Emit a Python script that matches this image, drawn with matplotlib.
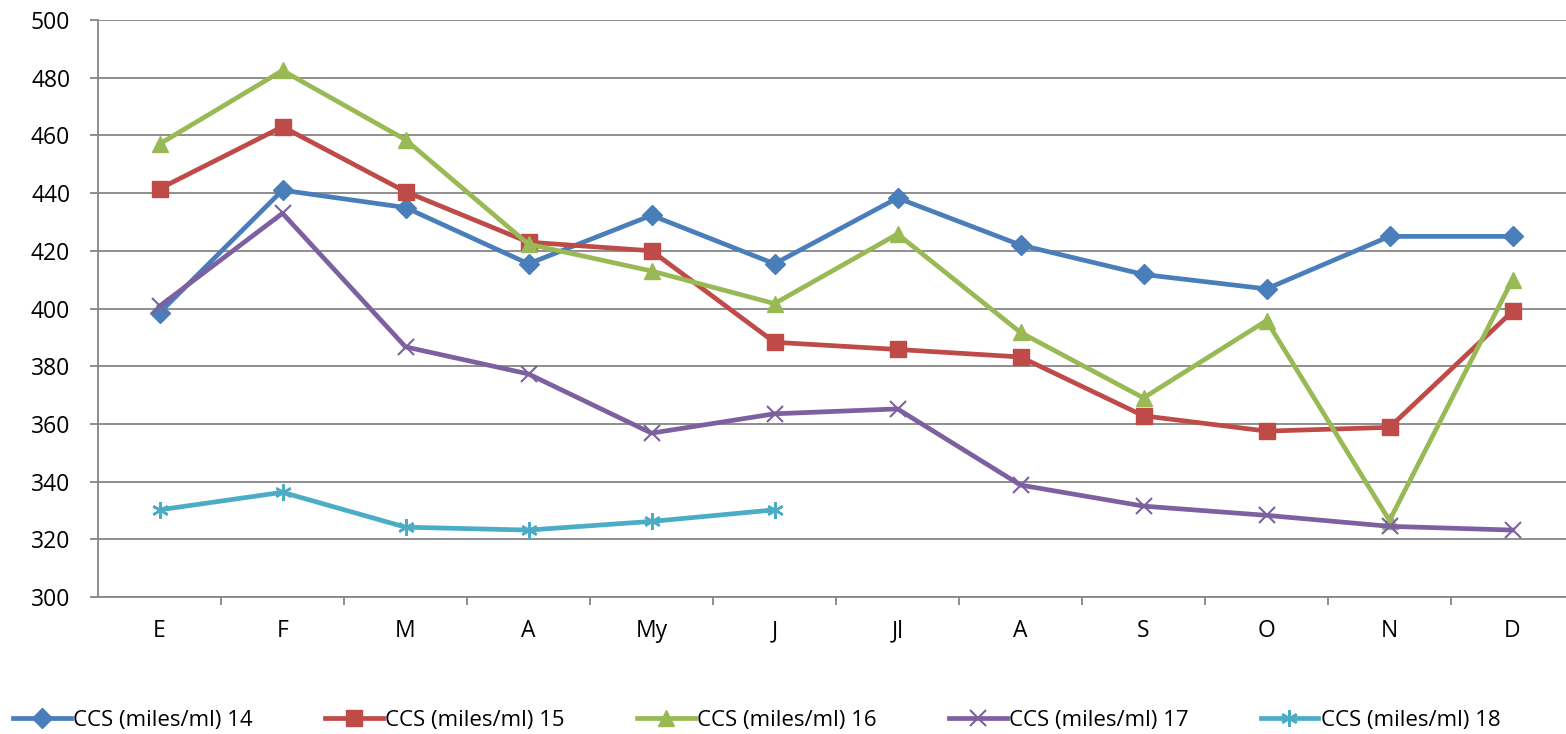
import numpy as np
import matplotlib.pyplot as plt

plt.rcParams['font.family'] = ['Open Sans', 'DejaVu Sans']

# months (Spanish initials)
months = ["E", "F", "M", "A", "My", "J", "Jl", "A", "S", "O", "N", "D"]

ccs_14 = [398.5, 441, 435, 415.5, 432.3, 415.5, 438.3, 422, 411.8, 406.8, 425, 425]
ccs_15 = [441.5, 463, 440.5, 423, 420, 388.3, 385.8, 383.2, 362.8, 357.5, 358.8, 399]
ccs_16 = [457, 482.5, 458.5, 422.3, 413, 401.7, 425.8, 391.7, 369, 395.8, 326.5, 410]
ccs_17 = [400.8, 433, 386.7, 377.3, 356.8, 363.5, 365.2, 338.8, 331.5, 328.3, 324.5, 323.2]
ccs_18 = [330.2, 336.3, 324.2, 323.2, 326.2, 330.2]

labels = ["CCS (miles/ml) 14", "CCS (miles/ml) 15", "CCS (miles/ml) 16",
          "CCS (miles/ml) 17", "CCS (miles/ml) 18"]
colors = ["#4A7EBB", "#BE4B48", "#98B954", "#7D60A0", "#4BACC6"]
markers = ["D", "s", "^", "x", "*"]
msizes = [10, 12, 12, 12, 12]

fig = plt.figure(figsize=(15.66, 7.34), dpi=100)
ax = fig.add_axes([98 / 1566, 137 / 734, 1476 / 1566, 577 / 734])

x = np.arange(len(months))
series = [ccs_14, ccs_15, ccs_16, ccs_17, ccs_18]
for vals, lab, c, m, ms in zip(series, labels, colors, markers, msizes):
    xs = x[:len(vals)]
    if m == "*":
        # asterisk-like marker
        ax.plot(xs, vals, color=c, lw=3.4, marker=(6, 2, 0), ms=ms, mew=1.8,
                label=lab, zorder=3)
    elif m == "x":
        ax.plot(xs, vals, color=c, lw=3.4, marker="x", ms=ms, mew=1.5,
                label=lab, zorder=3)
    else:
        ax.plot(xs, vals, color=c, lw=3.4, marker=m, ms=ms, mec=c,
                label=lab, zorder=3)

ax.set_xlim(-0.5, len(months) - 0.5)
ax.set_ylim(300, 500)
ax.set_yticks(np.arange(300, 501, 20))
ax.set_xticks(x)
ax.set_xticklabels(months)
ax.set_xticks(np.arange(0.5, len(months) - 0.5, 1), minor=True)

ax.grid(axis="y", color="#868686", lw=1.3)
ax.set_axisbelow(True)
for s in ["top", "right"]:
    ax.spines[s].set_visible(False)
for s in ["left", "bottom"]:
    ax.spines[s].set_color("#868686")
    ax.spines[s].set_linewidth(1.3)

ax.tick_params(axis="y", length=6, color="#868686", width=1.3, pad=14,
               labelsize=16.5)
ax.tick_params(axis="x", which="major", length=0, pad=16, labelsize=16.5)
ax.tick_params(axis="x", which="minor", length=6, color="#868686", width=1.3)

fig.legend(loc="lower left", bbox_to_anchor=(0.0, -0.014), ncol=5,
           frameon=False, fontsize=16, handlelength=2.6, handletextpad=0.1,
           columnspacing=3.25, borderaxespad=0.2)

fig.savefig("out.png", dpi=100)
